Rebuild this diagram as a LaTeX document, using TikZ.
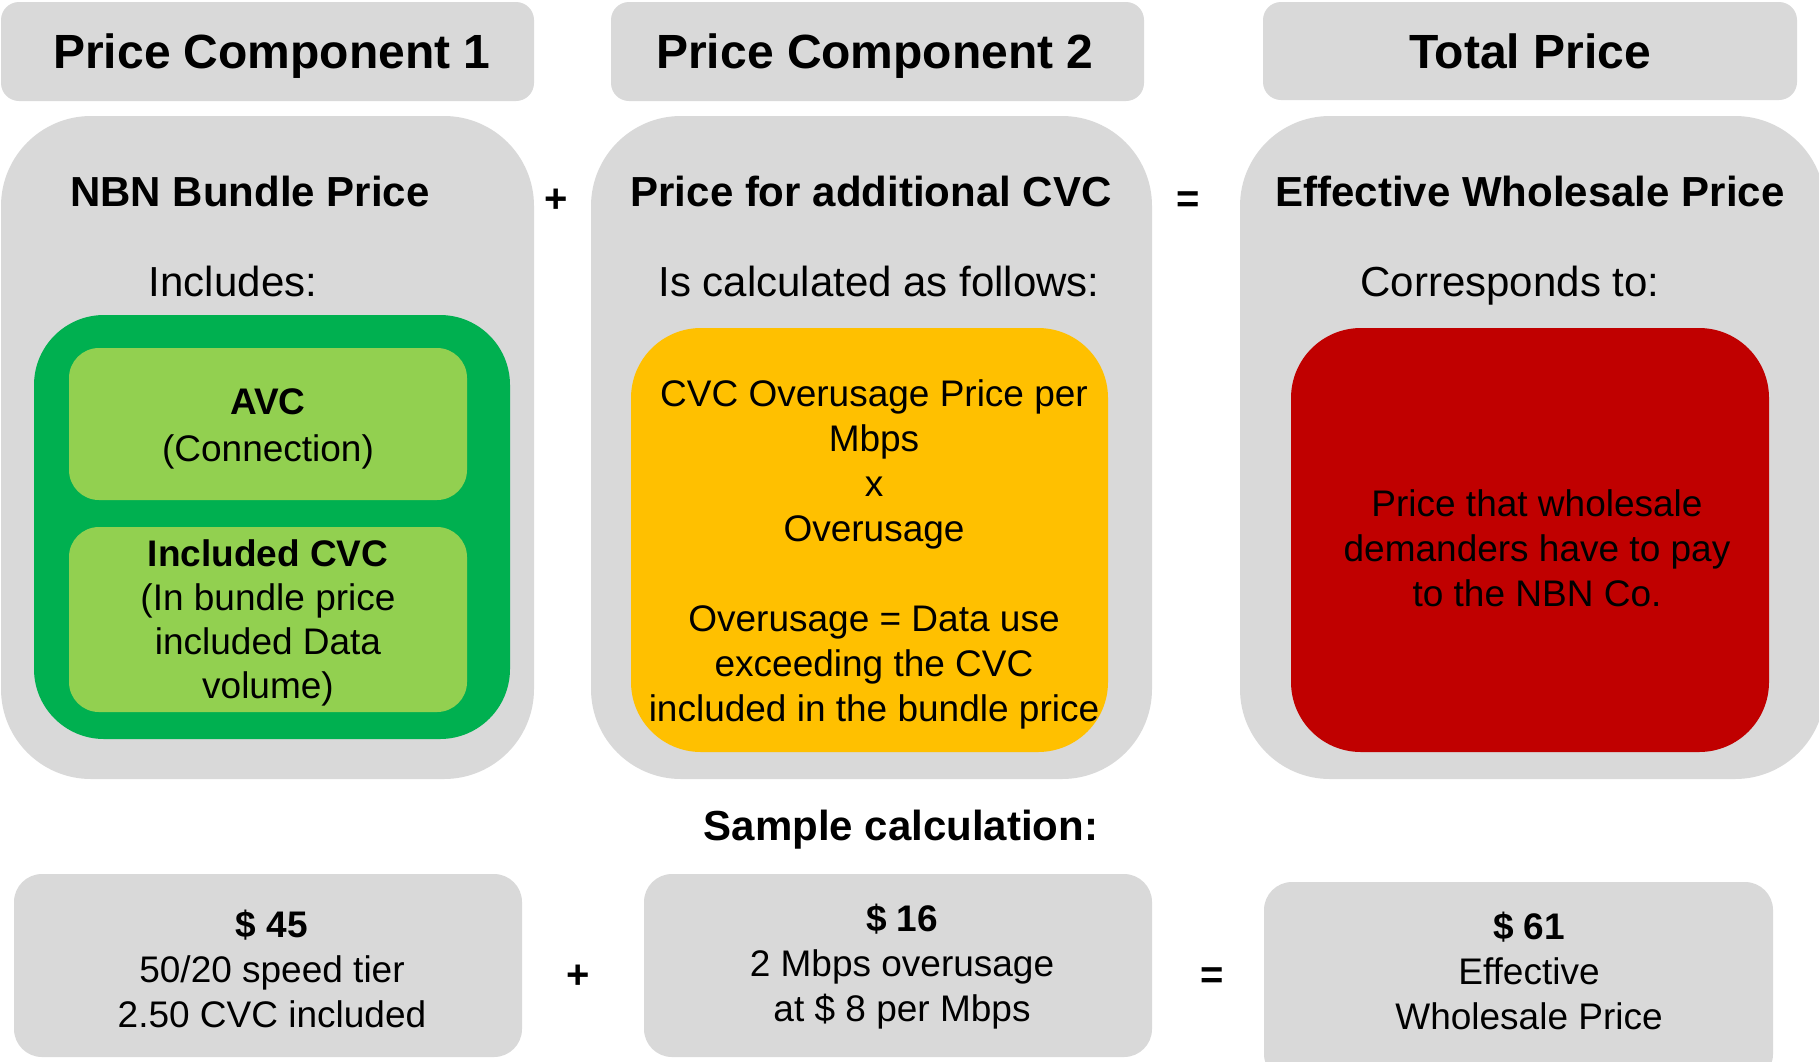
\documentclass[tikz,border=0pt]{standalone}
\usepackage{fontspec}
\setmainfont{Liberation Sans}
\definecolor{lgrey}{HTML}{D9D9D9}
\definecolor{dgreen}{HTML}{00B050}
\definecolor{lgreen}{HTML}{92D050}
\definecolor{amber}{HTML}{FFC000}
\definecolor{dred}{HTML}{C00000}
\begin{document}
\begin{tikzpicture}[x=1pt,y=-1pt,
  panel/.style={draw=none, inner sep=0pt, outer sep=0pt, anchor=north west},
  hdr/.style={anchor=base, inner sep=0pt, font=\fontsize{48}{56}\selectfont\bfseries},
  ttl/.style={anchor=base, inner sep=0pt, font=\fontsize{42}{50}\selectfont\bfseries},
  sub/.style={anchor=base, inner sep=0pt, font=\fontsize{42}{50}\selectfont},
  body/.style={anchor=base, inner sep=0pt, align=center, font=\fontsize{37}{45}\selectfont},
  op/.style={anchor=base, inner sep=0pt, font=\fontsize{40}{48}\selectfont\bfseries}]
\useasboundingbox (0,0) rectangle (1819,1061);
% headers
\node[panel, fill=lgrey, rounded corners=18pt, minimum width=533pt, minimum height=99pt] (h1) at (1,2) {};
\node[panel, fill=lgrey, rounded corners=18pt, minimum width=533pt, minimum height=99pt] (h2) at (611,2) {};
\node[panel, fill=lgrey, rounded corners=18pt, minimum width=534pt, minimum height=98pt] (h3) at (1263,2) {};
\node[hdr] (h1t) at (272,68) {Price Component 1};
\node[hdr] (h2t) at (875,68) {Price Component 2};
\node[hdr] (h3t) at (1530,68) {Total Price};
% big panels
\node[panel, fill=lgrey, rounded corners=90pt, minimum width=533pt, minimum height=663pt] (b1) at (1,116) {};
\node[panel, fill=lgrey, rounded corners=90pt, minimum width=561pt, minimum height=663pt] (b2) at (591,116) {};
\node[panel, fill=lgrey, rounded corners=90pt, minimum width=585pt, minimum height=663pt] (b3) at (1240,116) {};
\node[ttl] (b1t) at (250,206) {NBN Bundle Price};
\node[ttl] (b2t) at (871,206) {Price for additional CVC};
\node[ttl] (b3t) at (1530,206) {Effective Wholesale Price};
\node[sub] (b1s) at (233,296) {Includes:};
\node[sub] (b2s) at (879,296) {Is calculated as follows:};
\node[sub] (b3s) at (1510,296) {Corresponds to:};
% inner boxes
\node[panel, fill=dgreen, rounded corners=70pt, minimum width=476pt, minimum height=424pt] (g) at (34,315) {};
\node[panel, fill=lgreen, rounded corners=30pt, minimum width=398pt, minimum height=152pt] (avc) at (69,348) {};
\node[panel, fill=lgreen, rounded corners=30pt, minimum width=398pt, minimum height=185pt] (cvc) at (69,527) {};
\node[panel, fill=amber, rounded corners=70pt, minimum width=477pt, minimum height=424pt] (y) at (631,328) {};
\node[panel, fill=dred, rounded corners=70pt, minimum width=478pt, minimum height=424pt] (r) at (1291,328) {};
\node[body, font=\fontsize{37}{47}\selectfont] (avct) at (268,461) {\textbf{AVC}\\(Connection)};
\node[body, font=\fontsize{37}{44}\selectfont] (cvct) at (268,698) {\textbf{Included CVC}\\(In bundle price\\included Data\\volume)};
\node[body] (yt) at (874,721) {CVC Overusage Price per\\Mbps\\x\\Overusage\\[45pt]Overusage = Data use\\exceeding the CVC\\included in the bundle price};
\node[body] (rt) at (1537,606) {Price that wholesale\\demanders have to pay\\to the NBN Co.};
% operators
\node[op] (p1) at (556,212) {+};
\node[op] (e1) at (1188,212) {=};
% sample calculation
\node[ttl] (sc) at (901,840) {Sample calculation:};
\node[panel, fill=lgrey, rounded corners=28pt, minimum width=508pt, minimum height=183pt] (s1) at (14,874) {};
\node[panel, fill=lgrey, rounded corners=28pt, minimum width=508pt, minimum height=183pt] (s2) at (644,874) {};
\node[panel, fill=lgrey, rounded corners=28pt, minimum width=509pt, minimum height=200pt] (s3) at (1264,882) {};
\node[body] (s1t) at (272,1027) {\textbf{\$ 45}\\50/20 speed tier\\2.50 CVC included};
\node[body] (s2t) at (902,1021) {\textbf{\$ 16}\\2 Mbps overusage\\at \$ 8 per Mbps};
\node[body] (s3t) at (1529,1029) {\textbf{\$ 61}\\Effective\\Wholesale Price};
\node[op] (p2) at (578,988) {+};
\node[op] (e2) at (1212,988) {=};
\end{tikzpicture}
\end{document}
